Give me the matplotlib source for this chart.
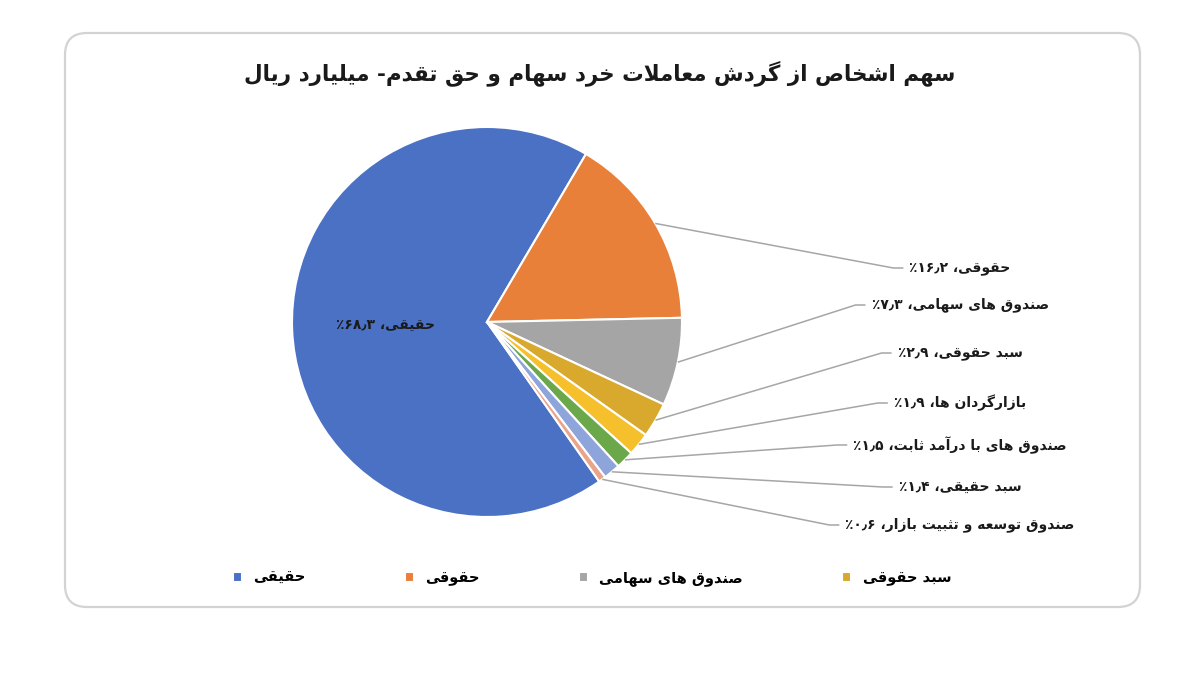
import re
import matplotlib
matplotlib.use("Agg")
import matplotlib.pyplot as plt
from matplotlib.patches import FancyBboxPatch
import numpy as np

# %% data
title = "سهم اشخاص از گردش معاملات خرد سهام و حق تقدم- میلیارد ریال"
categories = [
    "حقیقی",
    "حقوقی",
    "صندوق های سهامی",
    "سبد حقوقی",
    "بازارگردان ها",
    "صندوق های با درآمد ثابت",
    "سبد حقیقی",
    "صندوق توسعه و تثبیت بازار",
]
shares = [68.3, 16.2, 7.3, 2.9, 1.9, 1.5, 1.4, 0.6]
colors = ["#4A71C4", "#E8803A", "#A5A5A5", "#D9A92E",
          "#F6BF2C", "#6AA84A", "#8DA5DA", "#E9A58C"]

# %% tiny persian shaper (matplotlib has no arabic shaping / bidi)
# isolated, final, initial, medial
FORMS = {
    "ا": ("\ufe8d", "\ufe8e"), "آ": ("\ufe81", "\ufe82"),
    "د": ("\ufea9", "\ufeaa"), "ر": ("\ufead", "\ufeae"),
    "ز": ("\ufeaf", "\ufeb0"), "و": ("\ufeed", "\ufeee"),
    "ب": ("\ufe8f", "\ufe90", "\ufe91", "\ufe92"),
    "ت": ("\ufe95", "\ufe96", "\ufe97", "\ufe98"),
    "ث": ("\ufe99", "\ufe9a", "\ufe9b", "\ufe9c"),
    "ح": ("\ufea1", "\ufea2", "\ufea3", "\ufea4"),
    "خ": ("\ufea5", "\ufea6", "\ufea7", "\ufea8"),
    "س": ("\ufeb1", "\ufeb2", "\ufeb3", "\ufeb4"),
    "ش": ("\ufeb5", "\ufeb6", "\ufeb7", "\ufeb8"),
    "ص": ("\ufeb9", "\ufeba", "\ufebb", "\ufebc"),
    "ع": ("\ufec9", "\ufeca", "\ufecb", "\ufecc"),
    "ق": ("\ufed5", "\ufed6", "\ufed7", "\ufed8"),
    "ل": ("\ufedd", "\ufede", "\ufedf", "\ufee0"),
    "م": ("\ufee1", "\ufee2", "\ufee3", "\ufee4"),
    "ن": ("\ufee5", "\ufee6", "\ufee7", "\ufee8"),
    "ه": ("\ufee9", "\ufeea", "\ufeeb", "\ufeec"),
    "گ": ("\ufb92", "\ufb93", "\ufb94", "\ufb95"),
    "ی": ("\ufbfc", "\ufbfd", "\ufbfe", "\ufbff"),
}
LAM_ALEF = {"ا": ("\ufefb", "\ufefc"), "آ": ("\ufef5", "\ufef6")}
FA_DIGITS = str.maketrans("0123456789.", "۰۱۲۳۴۵۶۷۸۹٫")


def fa(text):
    out = []
    i = 0
    while i < len(text):
        ch = text[i]
        if ch not in FORMS:
            out.append(ch)
            i += 1
            continue
        prev = text[i - 1] if i > 0 else ""
        nxt = text[i + 1] if i + 1 < len(text) else ""
        joins_prev = prev in FORMS and len(FORMS[prev]) == 4
        if ch == "ل" and nxt in LAM_ALEF:
            out.append(LAM_ALEF[nxt][joins_prev])
            i += 2
            continue
        joins_next = len(FORMS[ch]) == 4 and nxt in FORMS
        out.append(FORMS[ch][joins_prev + 2 * joins_next])
        i += 1
    vis = "".join(out)[::-1]
    # numbers stay left to right
    return re.sub(r"[۰-۹٫]+", lambda m: m.group(0)[::-1], vis)


def pct(v):
    return f"{v:.1f}".translate(FA_DIGITS) + "٪"


# %% figure, one axes in pixel units (origin bottom-left)
W, H = 1200, 698
fig = plt.figure(figsize=(W / 100, H / 100), dpi=100)
ax = fig.add_axes([0, 0, 1, 1])
plt.rcParams["font.family"] = ["DejaVu Sans"]

frame = FancyBboxPatch((65, H - 607), 1075, 574,
                       boxstyle="round,pad=0,rounding_size=22",
                       ec="#D3D3D3", fc="white", lw=1.6, zorder=0)
ax.add_patch(frame)

cx, cy, r = 487, H - 322, 195
# orange slice starts at about 60 deg, blue is drawn first
wedges, _ = ax.pie(shares, colors=colors, radius=r, center=(cx, cy),
                   startangle=59.5 + 360 * shares[0] / sum(shares),
                   counterclock=False, frame=True,
                   wedgeprops=dict(edgecolor="white", linewidth=1.5))
ax.set_xlim(0, W)
ax.set_ylim(0, H)
ax.set_aspect("equal")
ax.axis("off")

ax.text(600, H - 73, fa(title), ha="center", va="center",
        fontsize=15.5, fontweight="bold", color="#1a1a1a")

# label inside the big slice
ax.text(385, H - 325, fa(f"{categories[0]}، {pct(shares[0])}"),
        ha="center", va="center", fontsize=10, fontweight="bold", color="#1a1a1a")

# outside labels with leader lines
label_y = [268, 305, 353, 403, 445, 487, 525]
label_x = 960
texts = []
for cat, v, ly in zip(categories[1:], shares[1:], label_y):
    t = ax.text(label_x, H - ly, fa(f"{cat}، {pct(v)}"), ha="center", va="center",
                fontsize=10, fontweight="bold", color="#1a1a1a")
    texts.append(t)

fig.canvas.draw()
inv = ax.transData.inverted()
for w, t, ly in zip(wedges[1:], texts, label_y):
    mid = np.deg2rad((w.theta1 + w.theta2) / 2)
    x0, y0 = cx + r * np.cos(mid), cy + r * np.sin(mid)
    left = inv.transform(t.get_window_extent().get_points())[0][0]
    x2 = left - 6
    ax.plot([x0, x2 - 10, x2], [y0, H - ly, H - ly], color="#A6A6A6", lw=1.1,
            solid_capstyle="butt", zorder=1)

# legend (only first four entries are shown)
leg = ax.legend(wedges[:4], [fa(c) for c in categories[:4]], loc="center",
                bbox_to_anchor=(592 / W, (H - 578) / H), bbox_transform=fig.transFigure,
                ncol=4, frameon=False, handlelength=0.6, handleheight=0.6,
                handletextpad=0.8, columnspacing=6.8,
                prop=dict(size=10.5, weight="bold"))

fig.savefig("out.png", dpi=100, facecolor="white")
